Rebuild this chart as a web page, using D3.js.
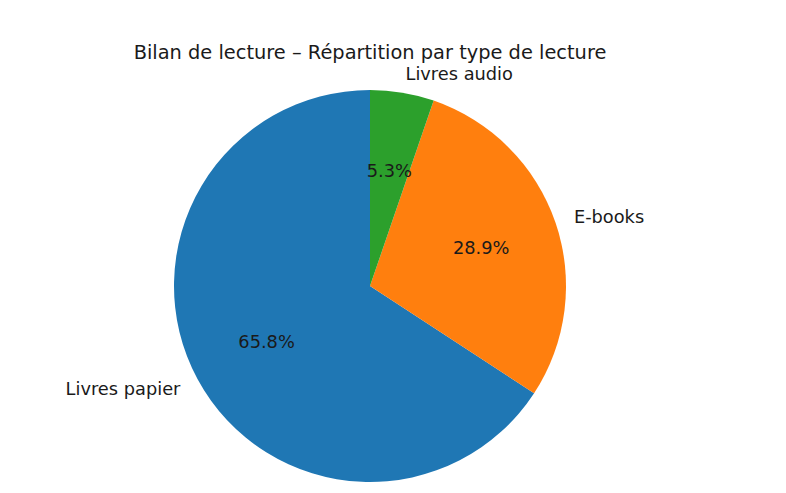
<!DOCTYPE html>
<html><head><meta charset="utf-8">
<script src="https://cdn.jsdelivr.net/npm/d3@7"></script>
<style>body{margin:0;background:#fff}svg{display:block}text{font-family:"DejaVu Sans",sans-serif;fill:#1a1a1a}</style>
</head><body><svg id="c" width="786" height="493"></svg>
<script>
const categories = ["Livres papier", "E-books", "Livres audio"];
const values = [25, 11, 2];
const colors = ["#1f77b4", "#ff7f0e", "#2ca02c"];
const title = "Bilan de lecture – Répartition par type de lecture";

const W = 786, H = 493, cx = 370, cy = 286, R = 196;
const svg = d3.select("#c");
const g = svg.append("g").attr("transform", `translate(${cx},${cy})`);

const total = d3.sum(values);
const pie = d3.pie().sort(null).value(d => d)
  .startAngle(0).endAngle(-2 * Math.PI);
const arcs = pie(values);
const arc = d3.arc().innerRadius(0).outerRadius(R);

g.selectAll("path").data(arcs).join("path")
  .attr("d", arc).attr("fill", (d, i) => colors[i]);

function pos(d, r) {
  const a = (d.startAngle + d.endAngle) / 2;
  return [r * Math.sin(a), -r * Math.cos(a)];
}

g.selectAll("text.pct").data(arcs).join("text").attr("class", "pct")
  .attr("x", d => pos(d, 0.6 * R)[0]).attr("y", d => pos(d, 0.6 * R)[1])
  .attr("text-anchor", "middle").attr("dominant-baseline", "central")
  .attr("font-size", "17.8px")
  .text(d => (d.value / total * 100).toFixed(1) + "%");

g.selectAll("text.lbl").data(arcs).join("text").attr("class", "lbl")
  .attr("x", d => pos(d, 1.1 * R)[0]).attr("y", d => pos(d, 1.1 * R)[1])
  .attr("text-anchor", d => pos(d, 1)[0] > 0 ? "start" : "end")
  .attr("dominant-baseline", "central")
  .attr("font-size", "17.8px")
  .text((d, i) => categories[i]);

svg.append("text").attr("x", cx).attr("y", 59)
  .attr("text-anchor", "middle").attr("font-size", "19.4px").text(title);
</script></body></html>
